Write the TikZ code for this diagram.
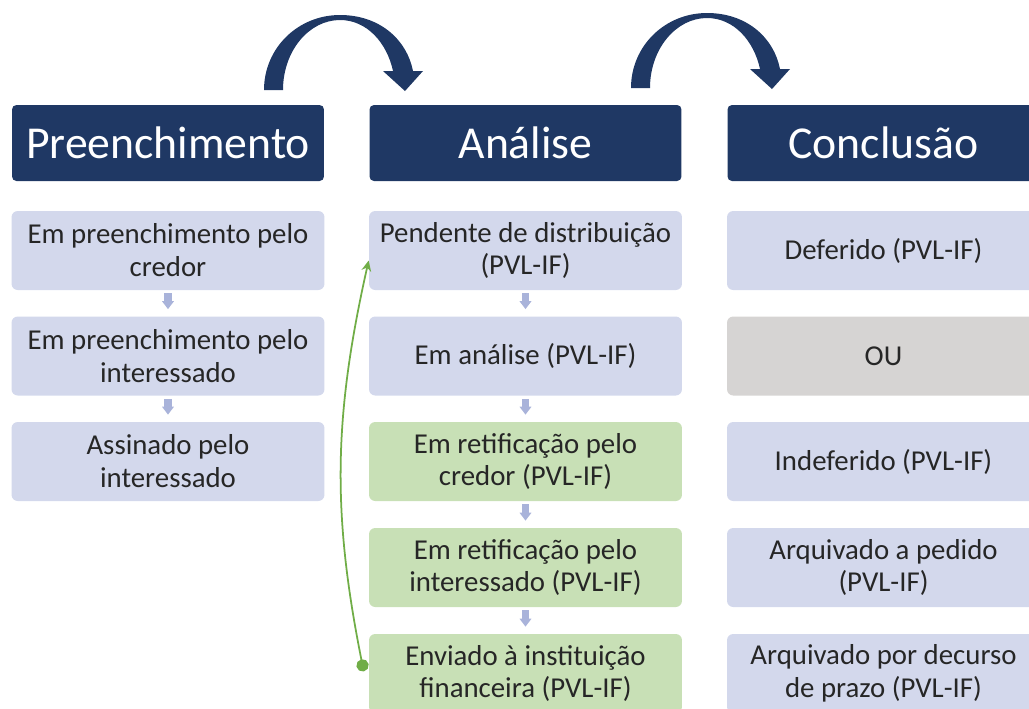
\documentclass[tikz,border=0pt]{standalone}
\usepackage{fontspec}
\setmainfont{Carlito}
\usetikzlibrary{arrows.meta}
\definecolor{navy}{HTML}{1F3864}
\definecolor{lav}{HTML}{D3D8EC}
\definecolor{leaf}{HTML}{C8E0B6}
\definecolor{stone}{HTML}{D6D4D3}
\definecolor{tickblue}{HTML}{A9B3DA}
\definecolor{loopgreen}{HTML}{70AD47}
\def\bendarrow(#1,#2){\fill[navy,shift={(#1,#2)}] (264,90) .. controls (264,48) and (298,15) .. (340,15) .. controls (380,15) and (407,40) .. (413,71) -- (423,71) -- (405,91) -- (383,71) -- (393,71) .. controls (387,43) and (367,20) .. (340,20) .. controls (309,20) and (283,51) .. (283,90) -- cycle;}

\tikzset{
  header/.style={fill=navy, text=white, rounded corners=2.5pt, minimum width=6.24cm, minimum height=1.52cm, inner sep=0pt, font=\fontsize{26}{31}\selectfont},
  stage/.style={fill=lav, text=black!85, rounded corners=3.5pt, minimum width=6.26cm, minimum height=1.58cm, inner sep=0pt, align=center, font=\fontsize{16.4}{18.7}\selectfont},
  stagefix/.style={stage, fill=leaf},
  stageor/.style={stage, fill=stone},
  downflow/.style={draw=tickblue, line width=4pt, shorten <=1.7pt, shorten >=4pt, -{Triangle[width=6.5pt,length=4.5pt]}},
  backflow/.style={draw=loopgreen, line width=1pt, {Circle[length=7pt]}-{Stealth[length=6pt,width=5.5pt]}}
}

\begin{document}
\begin{tikzpicture}[x=0.02cm, y=-0.02cm]
  \useasboundingbox (0,0) rectangle (1029,708);
  \clip (0,0) rectangle (1029,708);

  % arrows between stages
  \bendarrow(0,0)
  \bendarrow(367,-2)

  % headers
  \node[header] (hpre) at (168,143) {Preenchimento};
  \node[header] (hana) at (525.5,143) {Análise};
  \node[header] (hcon) at (883.5,143) {Conclusão};

  % preenchimento
  \node[stage] (pre1) at (168,250.5) {Em preenchimento pelo\\credor};
  \node[stage] (pre2) at (168,356) {Em preenchimento pelo\\interessado};
  \node[stage] (pre3) at (168,461.5) {Assinado pelo\\interessado};

  % analise
  \node[stage] (ana1) at (525.5,250.5) {Pendente de distribuição\\(PVL-IF)};
  \node[stage] (ana2) at (525.5,356) {Em análise (PVL-IF)};
  \node[stagefix] (ana3) at (525.5,461.5) {Em retificação pelo\\credor (PVL-IF)};
  \node[stagefix] (ana4) at (525.5,567.5) {Em retificação pelo\\interessado (PVL-IF)};
  \node[stagefix] (ana5) at (525.5,673.5) {Enviado à instituição\\financeira (PVL-IF)};

  % conclusao
  \node[stage] (con1) at (883.5,250.5) {Deferido (PVL-IF)};
  \node[stageor] (con2) at (883.5,356) {OU};
  \node[stage] (con3) at (883.5,461.5) {Indeferido (PVL-IF)};
  \node[stage] (con4) at (883.5,567.5) {Arquivado a pedido\\(PVL-IF)};
  \node[stage] (con5) at (883.5,673.5) {Arquivado por decurso\\de prazo (PVL-IF)};

  \draw[downflow] (pre1) -- (pre2);
  \draw[downflow] (pre2) -- (pre3);
  \foreach \a/\b in {ana1/ana2, ana2/ana3, ana3/ana4, ana4/ana5}
    \draw[downflow] (\a) -- (\b);

  \draw[backflow] ([xshift=-2.8pt,yshift=1.2pt]ana5.west) to[bend left=12] ([yshift=-5.7pt]ana1.west);
\end{tikzpicture}
\end{document}
